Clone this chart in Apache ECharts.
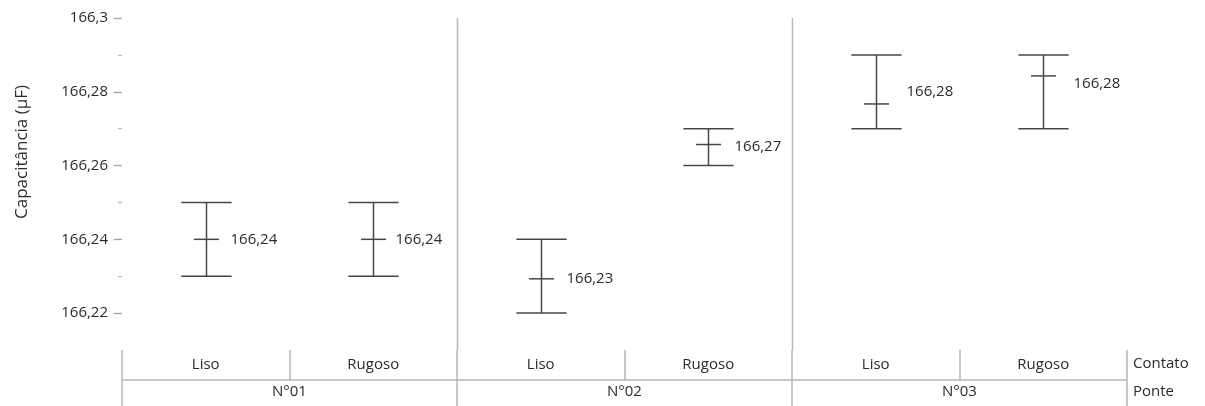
<!DOCTYPE html>
<html>
<head>
<meta charset="utf-8">
<script src="https://cdn.jsdelivr.net/npm/echarts@6/dist/echarts.min.js"></script>
<style>
  html, body { margin: 0; padding: 0; background: #ffffff; }
  #chart { width: 1205px; height: 406px; }
</style>
</head>
<body>
<div id="chart"></div>
<script>
// Capacitance per bridge (Ponte) and contact type (Contato): min–max interval with mean
const contacts = ['Liso', 'Rugoso', 'Liso', 'Rugoso', 'Liso', 'Rugoso'];
const bridges = ['N°01', 'N°02', 'N°03'];
const lowValues = [166.23, 166.23, 166.22, 166.26, 166.27, 166.27];
const meanValues = [166.24, 166.24, 166.2293, 166.2657, 166.2767, 166.2843];
const highValues = [166.25, 166.25, 166.24, 166.27, 166.29, 166.29];
const majorTicks = [166.22, 166.24, 166.26, 166.28, 166.3];
const minorTicks = [166.23, 166.25, 166.27, 166.29];
// last category index of each bridge group that is followed by a divider
const groupEnds = [1, 3];

// label placement tweaks (pixels) for the mean labels
const labelDx = [24, 22, 25, 26, 30, 30];
const labelDy = [0, 0, 0, 2, -12, 8];

const FONT = '"Open Sans", "Noto Sans", sans-serif';
const TEXT = '#2b2b2b';
const RULE = '#b8b8b8';
const BAR = '#474747';
const FS = 15;

const fmt = v => Number(v.toFixed(2)).toString().replace('.', ',');

const intervalData = contacts.map((c, i) => [i, lowValues[i], meanValues[i], highValues[i]]);

const chart = echarts.init(document.getElementById('chart'), null, { renderer: 'canvas' });

chart.setOption({
  animation: false,
  backgroundColor: '#ffffff',
  textStyle: { fontFamily: FONT },
  grid: { left: 122, right: 78, top: 18, bottom: 56, containLabel: false },
  xAxis: [
    {
      type: 'category',
      data: contacts,
      position: 'bottom',
      axisLine: { show: false },
      axisTick: { show: true, length: 30, lineStyle: { color: RULE, width: 1.5 } },
      axisLabel: { margin: 7, color: TEXT, fontSize: FS, fontFamily: FONT },
      splitLine: { show: false }
    },
    {
      type: 'category',
      data: bridges,
      position: 'bottom',
      offset: 30,
      axisLine: { show: true, lineStyle: { color: RULE, width: 1.5 } },
      axisTick: { show: true, length: 26, lineStyle: { color: RULE, width: 1.5 } },
      axisLabel: { margin: 4, color: TEXT, fontSize: FS, fontFamily: FONT },
      splitLine: { show: false }
    }
  ],
  yAxis: [
    {
      type: 'value',
      position: 'left',
      min: 166.21,
      max: 166.3,
      interval: 0.01,
      axisLine: { show: false },
      axisTick: { show: true, length: 8, customValues: majorTicks, lineStyle: { color: '#a0a0a0', width: 1.3 } },
      axisLabel: { show: true, margin: 14, customValues: majorTicks, formatter: fmt, color: TEXT, fontSize: FS, fontFamily: FONT },
      splitLine: { show: false }
    },
    {
      type: 'value',
      position: 'left',
      min: 166.21,
      max: 166.3,
      interval: 0.01,
      axisLine: { show: false },
      axisTick: { show: true, length: 4, customValues: minorTicks, lineStyle: { color: '#bcbcbc', width: 1.3 } },
      axisLabel: { show: false },
      splitLine: { show: false }
    }
  ],
  graphic: [
    {
      type: 'text',
      x: 22, y: 152,
      rotation: Math.PI / 2,
      style: { text: 'Capacitância (μF)', fill: TEXT, font: '17px ' + FONT, align: 'center', verticalAlign: 'middle' }
    },
    {
      type: 'text',
      x: 1133, y: 364,
      style: { text: 'Contato', fill: TEXT, font: FS + 'px ' + FONT, align: 'left', verticalAlign: 'middle' }
    },
    {
      type: 'text',
      x: 1133, y: 392,
      style: { text: 'Ponte', fill: TEXT, font: FS + 'px ' + FONT, align: 'left', verticalAlign: 'middle' }
    }
  ],
  series: [
    {
      // vertical dividers between bridge groups
      type: 'custom',
      xAxisIndex: 0,
      yAxisIndex: 0,
      data: groupEnds.map(i => [i, 166.3]),
      silent: true,
      renderItem(params, api) {
        const band = api.size([1, 0])[0];
        const p = api.coord([api.value(0), api.value(1)]);
        const x = Math.round(p[0] + band / 2) + 0.5;
        const cs = params.coordSys;
        return {
          type: 'line',
          shape: { x1: x, y1: cs.y, x2: x, y2: cs.y + cs.height },
          style: { stroke: RULE, lineWidth: 1.5 }
        };
      }
    },
    {
      // min–max whiskers with the mean marked and labelled
      type: 'custom',
      xAxisIndex: 0,
      yAxisIndex: 0,
      data: intervalData,
      renderItem(params, api) {
        const i = params.dataIndex;
        const idx = api.value(0);
        const lo = api.coord([idx, api.value(1)]);
        const mid = api.coord([idx, api.value(2)]);
        const hi = api.coord([idx, api.value(3)]);
        const band = api.size([1, 0])[0];
        const capHalf = band * 0.15;
        const meanHalf = band * 0.075;
        const x = Math.round(lo[0]) + 0.5;
        const ln = (x1, y1, x2, y2) => ({
          type: 'line',
          shape: { x1, y1, x2, y2 },
          style: { stroke: BAR, lineWidth: 1.5 }
        });
        return {
          type: 'group',
          children: [
            ln(x, hi[1], x, lo[1]),
            ln(x - capHalf, hi[1], x + capHalf, hi[1]),
            ln(x - capHalf, lo[1], x + capHalf, lo[1]),
            ln(x - meanHalf, mid[1], x + meanHalf, mid[1]),
            {
              type: 'text',
              x: x + labelDx[i],
              y: mid[1] + labelDy[i],
              style: {
                text: fmt(api.value(2)),
                fill: TEXT,
                font: FS + 'px ' + FONT,
                align: 'left',
                verticalAlign: 'middle'
              }
            }
          ]
        };
      }
    }
  ]
});
</script>
</body>
</html>
